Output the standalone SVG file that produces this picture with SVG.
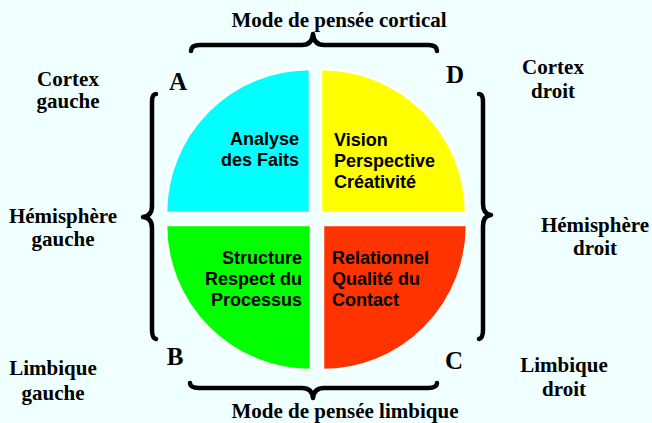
<svg xmlns="http://www.w3.org/2000/svg" width="652" height="423" viewBox="0 0 652 423">
<style>
.lbl{font-family:"Liberation Serif","Times New Roman",serif;font-weight:bold;font-size:21px;fill:#000;text-anchor:middle}
.big{font-family:"Liberation Serif","Times New Roman",serif;font-weight:bold;font-size:25px;fill:#000;text-anchor:middle}
.q{font-family:"Liberation Sans",Arial,sans-serif;font-weight:bold;font-size:18px;fill:#000}
.quad{stroke:#fff;stroke-width:2.5}
.brace{fill:none;stroke:#000;stroke-width:4.5;stroke-linecap:round;stroke-linejoin:round}
</style>
<rect width="652" height="423" fill="#F0FFFF"/>
<g id="quadA">
<path class="quad" d="M310,213 L166,213 A144,144 0 0 1 310,69 Z" fill="#00FFFF"/>
<text class="q" text-anchor="end"><tspan x="299" y="145">Analyse</tspan><tspan x="299" y="166">des Faits</tspan></text>
</g>
<g id="quadD">
<path class="quad" d="M321,213 L321,69 A145,144 0 0 1 466,213 Z" fill="#FFFF00"/>
<text class="q"><tspan x="334" y="146">Vision</tspan><tspan x="334" y="167">Perspective</tspan><tspan x="334" y="188">Créativité</tspan></text>
</g>
<g id="quadB">
<path class="quad" d="M311,225 L311,370 A145,145 0 0 1 166,225 Z" fill="#00FF00"/>
<text class="q" text-anchor="end"><tspan x="302" y="264">Structure</tspan><tspan x="302" y="285">Respect du</tspan><tspan x="302" y="306">Processus</tspan></text>
</g>
<g id="quadC">
<path class="quad" d="M323,225 L467,225 A144,145 0 0 1 323,370 Z" fill="#FF3300"/>
<text class="q"><tspan x="332" y="264">Relationnel</tspan><tspan x="332" y="285">Qualité du</tspan><tspan x="332" y="306">Contact</tspan></text>
</g>
<g id="connectors">
<path class="brace" d="M191,51 Q191,45 200,45 L302,45 Q312,45 313,34 Q314,45 324,45 L428,45 Q437,45 437,51"/>
<path class="brace" d="M190,383 Q190,388 199,388 L302,388 Q312,388 313,398 Q314,388 324,388 L428,388 Q437,388 437,383"/>
<path class="brace" d="M156,94 Q152,94 152,102 L152,206 Q152,216 143,217 Q152,218 152,228 L152,330 Q152,338 156,339"/>
<path class="brace" d="M479,94 Q483,94 483,102 L483,204 Q483,214 491,215 Q483,216 483,226 L483,330 Q483,338 479,339"/>
</g>
<g id="letters">
<text class="big" x="178" y="90">A</text>
<text class="big" x="455" y="83">D</text>
<text class="big" x="175" y="365">B</text>
<text class="big" x="454" y="369">C</text>
</g>
<g id="titleTop"><text class="lbl" x="339" y="27">Mode de pensée cortical</text></g>
<g id="titleBottom"><text class="lbl" x="345" y="418">Mode de pensée limbique</text></g>
<g id="cortexG"><text class="lbl"><tspan x="68" y="86">Cortex</tspan><tspan x="68" y="108">gauche</tspan></text></g>
<g id="hemiG"><text class="lbl"><tspan x="63" y="223">Hémisphère</tspan><tspan x="63" y="246">gauche</tspan></text></g>
<g id="limbG"><text class="lbl"><tspan x="53" y="375">Limbique</tspan><tspan x="53" y="400">gauche</tspan></text></g>
<g id="cortexD"><text class="lbl"><tspan x="553" y="74">Cortex</tspan><tspan x="553" y="98">droit</tspan></text></g>
<g id="hemiD"><text class="lbl"><tspan x="595" y="232">Hémisphère</tspan><tspan x="595" y="255">droit</tspan></text></g>
<g id="limbD"><text class="lbl"><tspan x="564" y="372">Limbique</tspan><tspan x="564" y="396">droit</tspan></text></g>
</svg>
